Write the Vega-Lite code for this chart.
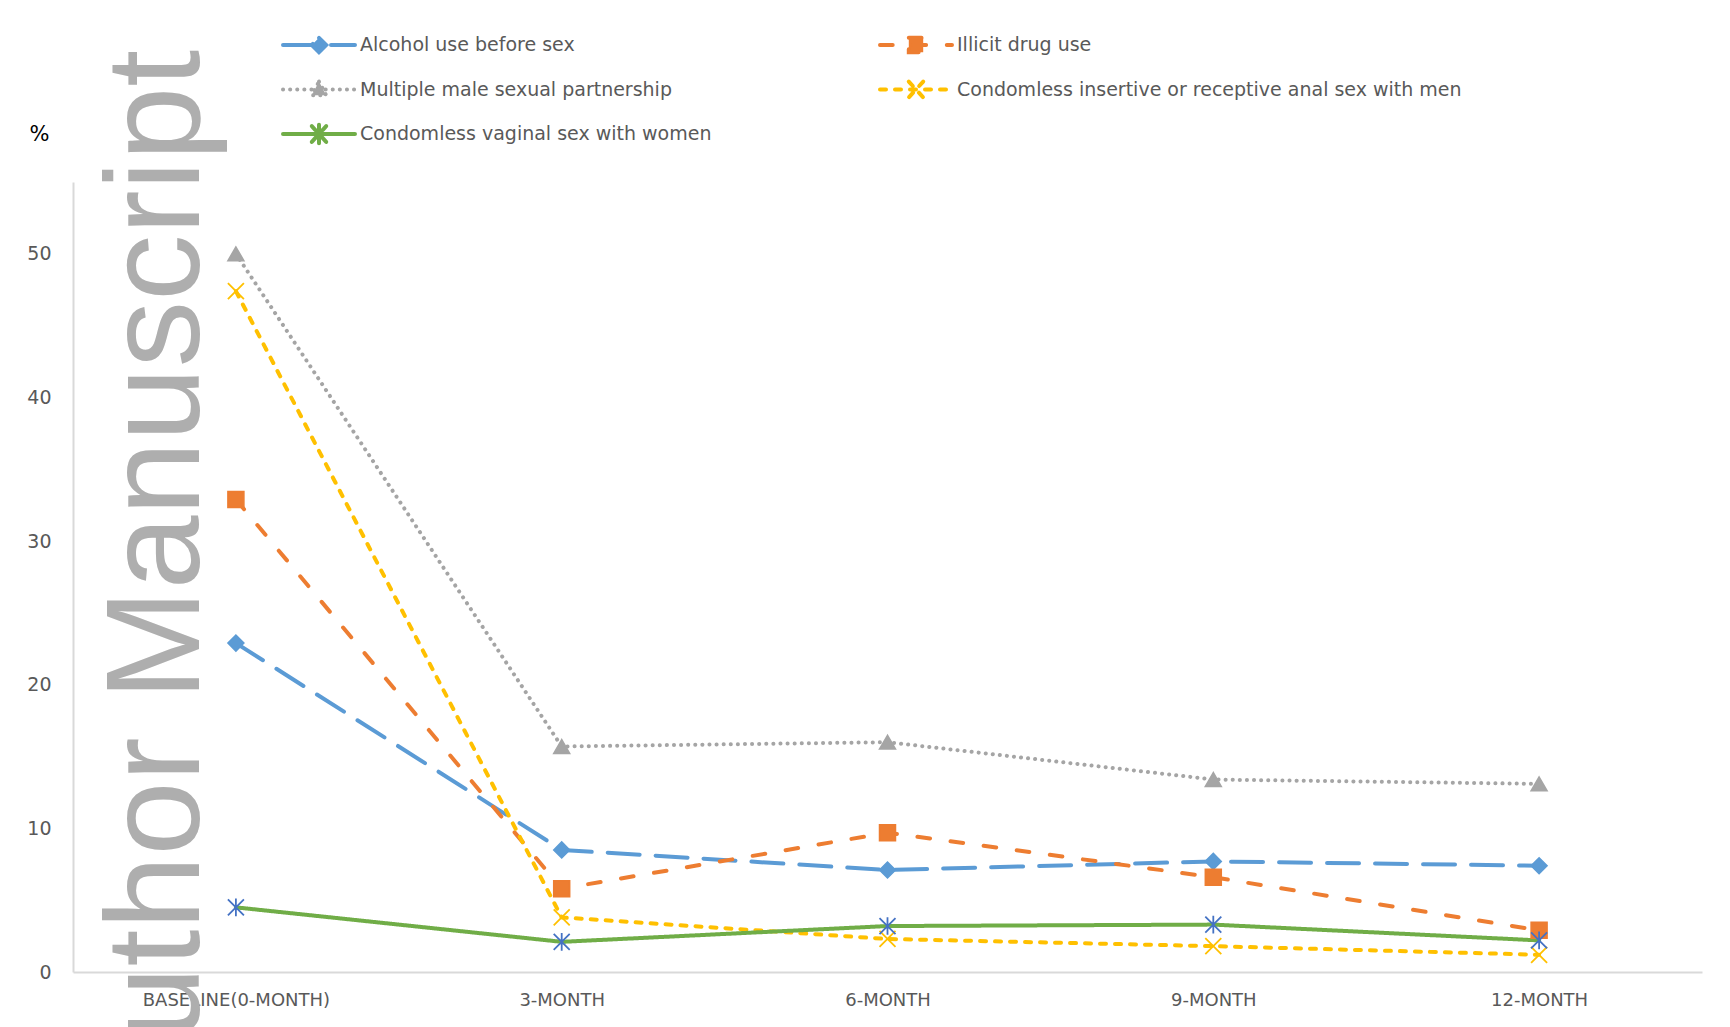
{
  "$schema": "https://vega.github.io/schema/vega-lite/v6.json",
  "width": 1629,
  "height": 790,
  "autosize": {"type": "none"},
  "padding": {"left": 73, "top": 182, "right": 28, "bottom": 55},
  "background": "white",
  "config": {"view": {"stroke": null}, "font": "DejaVu Sans"},
  "data": {
    "values": [
      {"series": "Alcohol use before sex", "time": "BASELINE(0-MONTH)", "pct": 22.9},
      {"series": "Alcohol use before sex", "time": "3-MONTH", "pct": 8.5},
      {"series": "Alcohol use before sex", "time": "6-MONTH", "pct": 7.1},
      {"series": "Alcohol use before sex", "time": "9-MONTH", "pct": 7.7},
      {"series": "Alcohol use before sex", "time": "12-MONTH", "pct": 7.4},
      {"series": "Illicit drug use", "time": "BASELINE(0-MONTH)", "pct": 32.9},
      {"series": "Illicit drug use", "time": "3-MONTH", "pct": 5.8},
      {"series": "Illicit drug use", "time": "6-MONTH", "pct": 9.7},
      {"series": "Illicit drug use", "time": "9-MONTH", "pct": 6.6},
      {"series": "Illicit drug use", "time": "12-MONTH", "pct": 2.9},
      {"series": "Multiple male sexual partnership", "time": "BASELINE(0-MONTH)", "pct": 50.0},
      {"series": "Multiple male sexual partnership", "time": "3-MONTH", "pct": 15.7},
      {"series": "Multiple male sexual partnership", "time": "6-MONTH", "pct": 16.0},
      {"series": "Multiple male sexual partnership", "time": "9-MONTH", "pct": 13.4},
      {"series": "Multiple male sexual partnership", "time": "12-MONTH", "pct": 13.1},
      {"series": "Condomless insertive or receptive anal sex with men", "time": "BASELINE(0-MONTH)", "pct": 47.4},
      {"series": "Condomless insertive or receptive anal sex with men", "time": "3-MONTH", "pct": 3.8},
      {"series": "Condomless insertive or receptive anal sex with men", "time": "6-MONTH", "pct": 2.3},
      {"series": "Condomless insertive or receptive anal sex with men", "time": "9-MONTH", "pct": 1.8},
      {"series": "Condomless insertive or receptive anal sex with men", "time": "12-MONTH", "pct": 1.2},
      {"series": "Condomless vaginal sex with women", "time": "BASELINE(0-MONTH)", "pct": 4.5},
      {"series": "Condomless vaginal sex with women", "time": "3-MONTH", "pct": 2.1},
      {"series": "Condomless vaginal sex with women", "time": "6-MONTH", "pct": 3.2},
      {"series": "Condomless vaginal sex with women", "time": "9-MONTH", "pct": 3.3},
      {"series": "Condomless vaginal sex with women", "time": "12-MONTH", "pct": 2.2}
    ]
  },
  "layer": [
    {
      "mark": {"type": "line", "strokeWidth": 4, "strokeCap": "round", "strokeJoin": "round"},
      "encoding": {
        "x": {
          "field": "time", "type": "ordinal",
          "sort": ["BASELINE(0-MONTH)", "3-MONTH", "6-MONTH", "9-MONTH", "12-MONTH"],
          "scale": {"type": "point"},
          "axis": {"title": null, "labelAngle": 0, "labelLimit": 600, "ticks": false, "grid": false, "domainColor": "#D9D9D9", "domainWidth": 2, "labelFontSize": 18, "labelColor": "#595959", "labelPadding": 19}
        },
        "y": {
          "field": "pct", "type": "quantitative",
          "scale": {"domain": [0, 55], "nice": false},
          "axis": {"values": [0, 10, 20, 30, 40, 50], "grid": false, "ticks": false, "domainColor": "#D9D9D9", "domainWidth": 2, "labelFontSize": 19, "labelColor": "#595959", "labelPadding": 22, "title": "%", "titleAngle": 0, "titleX": -34, "titleY": -48, "titleAlign": "center", "titleBaseline": "middle", "titleFontSize": 21, "titleFontWeight": "normal", "titleColor": "#000000"}
        },
        "color": {
          "field": "series", "type": "nominal",
          "scale": {
            "domain": ["Alcohol use before sex", "Multiple male sexual partnership", "Condomless vaginal sex with women", "Illicit drug use", "Condomless insertive or receptive anal sex with men"],
            "range": ["#5B9BD5", "#A5A5A5", "#70AD47", "#ED7D31", "#FFC000"]
          },
          "legend": {
            "title": null, "orient": "none", "legendX": 208, "legendY": -152,
            "columns": 2, "columnPadding": 166, "rowPadding": 14.5, "clipHeight": 30,
            "symbolSize": 5184, "symbolStrokeWidth": 4,
            "labelFontSize": 19, "labelColor": "#595959", "labelLimit": 1000, "labelOffset": 3,
            "encode": {
              "symbols": {
                "update": {
                  "shape": {"signal": "datum.value === 'Alcohol use before sex' ? 'M-1,0L1,0M0,-0.2L0.2,0L0,0.2L-0.2,0Z' : datum.value === 'Illicit drug use' ? 'M-1,0L1,0M-0.2,-0.2L0.2,-0.2L0.2,0.2L-0.2,0.2Z' : datum.value === 'Multiple male sexual partnership' ? 'M-1,0L1,0M0,-0.22L0.2,0.16L-0.2,0.16Z' : datum.value === 'Condomless insertive or receptive anal sex with men' ? 'M-1,0L1,0M-0.2,-0.22L0.2,0.22M0.2,-0.22L-0.2,0.22' : 'M-1,0L1,0M-0.2,-0.22L0.2,0.22M0.2,-0.22L-0.2,0.22M0,-0.26L0,0.26'"},
                  "fill": {"scale": "color", "field": "value"},
                  "strokeCap": {"value": "round"}
                }
              }
            }
          }
        },
        "strokeDash": {
          "field": "series", "type": "nominal",
          "scale": {
            "domain": ["Alcohol use before sex", "Multiple male sexual partnership", "Condomless vaginal sex with women", "Illicit drug use", "Condomless insertive or receptive anal sex with men"],
            "range": [[32, 16], [0.1, 7], [1, 0], [12.7, 20.7], [6, 9]]
          }
        }
      }
    },
    {
      "transform": [{"filter": {"field": "series", "equal": "Alcohol use before sex"}}],
      "mark": {"type": "point", "shape": "diamond", "size": 256, "strokeWidth": 1.5, "fill": "#5B9BD5", "stroke": "#5B9BD5", "opacity": 1},
      "encoding": {
        "x": {"field": "time", "type": "ordinal", "sort": ["BASELINE(0-MONTH)", "3-MONTH", "6-MONTH", "9-MONTH", "12-MONTH"]},
        "y": {"field": "pct", "type": "quantitative"}
      }
    },
    {
      "transform": [{"filter": {"field": "series", "equal": "Illicit drug use"}}],
      "mark": {"type": "point", "shape": "square", "size": 256, "strokeWidth": 1.5, "fill": "#ED7D31", "stroke": "#ED7D31", "opacity": 1},
      "encoding": {
        "x": {"field": "time", "type": "ordinal", "sort": ["BASELINE(0-MONTH)", "3-MONTH", "6-MONTH", "9-MONTH", "12-MONTH"]},
        "y": {"field": "pct", "type": "quantitative"}
      }
    },
    {
      "transform": [{"filter": {"field": "series", "equal": "Multiple male sexual partnership"}}],
      "mark": {"type": "point", "shape": "triangle-up", "size": 256, "strokeWidth": 1.5, "fill": "#A5A5A5", "stroke": "#A5A5A5", "opacity": 1},
      "encoding": {
        "x": {"field": "time", "type": "ordinal", "sort": ["BASELINE(0-MONTH)", "3-MONTH", "6-MONTH", "9-MONTH", "12-MONTH"]},
        "y": {"field": "pct", "type": "quantitative"}
      }
    },
    {
      "transform": [{"filter": {"field": "series", "equal": "Condomless insertive or receptive anal sex with men"}}],
      "mark": {"type": "point", "shape": "M-1,-1L1,1M1,-1L-1,1", "size": 256, "strokeWidth": 1.8, "fill": "transparent", "stroke": "#FFC000", "opacity": 1},
      "encoding": {
        "x": {"field": "time", "type": "ordinal", "sort": ["BASELINE(0-MONTH)", "3-MONTH", "6-MONTH", "9-MONTH", "12-MONTH"]},
        "y": {"field": "pct", "type": "quantitative"}
      }
    },
    {
      "transform": [{"filter": {"field": "series", "equal": "Condomless vaginal sex with women"}}],
      "mark": {"type": "point", "shape": "M-1,-1L1,1M1,-1L-1,1M0,-1.1L0,1.1", "size": 256, "strokeWidth": 1.8, "fill": "transparent", "stroke": "#4472C4", "opacity": 1},
      "encoding": {
        "x": {"field": "time", "type": "ordinal", "sort": ["BASELINE(0-MONTH)", "3-MONTH", "6-MONTH", "9-MONTH", "12-MONTH"]},
        "y": {"field": "pct", "type": "quantitative"}
      }
    },
    {
      "data": {"values": [{"wm": "Author Manuscript"}]},
      "mark": {"type": "text", "angle": 270, "align": "right", "baseline": "alphabetic", "font": "Liberation Sans", "fontSize": 133, "color": "#AEAEAE", "dy": -37},
      "encoding": {
        "text": {"field": "wm"},
        "x": {"datum": "BASELINE(0-MONTH)"},
        "y": {"datum": 64.2}
      }
    }
  ]
}
